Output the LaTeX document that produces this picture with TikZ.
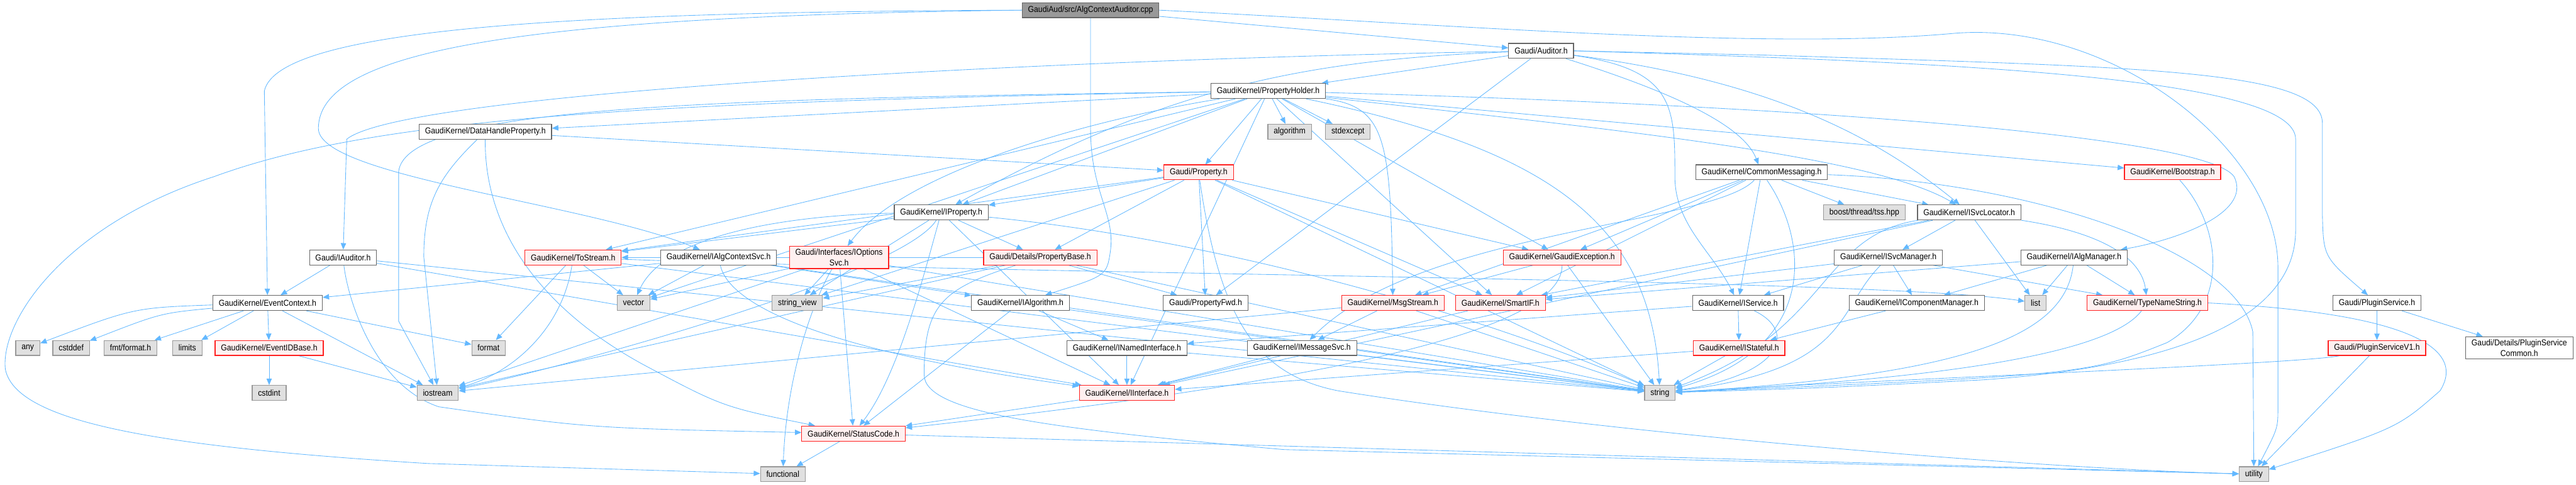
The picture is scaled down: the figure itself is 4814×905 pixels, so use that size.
\documentclass[tikz,border=0pt]{standalone}
\usepackage{fontspec}
\setsansfont{Liberation Sans}[FakeStretch=0.9]
\usetikzlibrary{arrows.meta,backgrounds}
\definecolor{edgeblue}{HTML}{63B8FF}
\definecolor{redline}{HTML}{FF2020}
\definecolor{redfill}{HTML}{FFF0F0}
\definecolor{grayfill}{HTML}{E0E0E0}
\definecolor{grayline}{HTML}{999999}
\definecolor{boxline}{HTML}{666666}
\definecolor{rootfill}{HTML}{999999}
\tikzset{
  every node/.style={font=\sffamily},
  hdr/.style={draw=boxline, line width=0.7pt, fill=white, minimum height=14pt,
              inner xsep=5.5pt, inner ysep=2.5pt, align=center, text=black,
              font=\sffamily\fontsize{8}{10}\selectfont},
  trunc/.style={hdr, draw=redline, fill=redfill},
  sys/.style={hdr, draw=grayline, fill=grayfill},
  srcfile/.style={hdr, fill=rootfill},
  dep/.style={-{Triangle[length=6pt, width=5pt]}, line width=0.5pt, draw=edgeblue},
}

\begin{document}
\begin{tikzpicture}[x=0.5pt, y=-0.5pt]
\useasboundingbox (0,0) rectangle (4814,905);

% --- header nodes, row by row ---
\node[srcfile] (root) at (2038,19) {GaudiAud/src/AlgContextAuditor.cpp};
\node[hdr] (auditor) at (2880,95) {Gaudi/Auditor.h};
\node[hdr] (propholder) at (2370,170) {GaudiKernel/PropertyHolder.h};

\node[hdr] (dhprop) at (907,246) {GaudiKernel/DataHandleProperty.h};
\node[sys] (algorithm) at (2410,246) {algorithm};
\node[sys] (stdexcept) at (2519,246) {stdexcept};

\node[trunc] (property) at (2240,322) {Gaudi/Property.h};
\node[hdr] (commsg) at (3292,322) {GaudiKernel/CommonMessaging.h};
\node[trunc] (bootstrap) at (4060,322) {GaudiKernel/Bootstrap.h};

\node[hdr] (iproperty) at (1759,397) {GaudiKernel/IProperty.h};
\node[sys] (boost) at (3484,397) {boost/thread/tss.hpp};
\node[hdr] (isvcloc) at (3680,397) {GaudiKernel/ISvcLocator.h};

\node[hdr] (iauditor) at (641,481) {Gaudi/IAuditor.h};
\node[trunc] (tostream) at (1071,481) {GaudiKernel/ToStream.h};
\node[hdr] (ialgctx) at (1343,481) {GaudiKernel/IAlgContextSvc.h};
\node[trunc] (ioptsvc) at (1568,481) {Gaudi/Interfaces/IOptions\\Svc.h};
\node[trunc] (propbase) at (1944,481) {Gaudi/Details/PropertyBase.h};
\node[trunc] (gaudiexc) at (2919,481) {GaudiKernel/GaudiException.h};
\node[hdr] (isvcmgr) at (3529,481) {GaudiKernel/ISvcManager.h};
\node[hdr] (ialgmgr) at (3876,481) {GaudiKernel/IAlgManager.h};

\node[hdr] (evctx) at (500,566) {GaudiKernel/EventContext.h};
\node[sys] (vector) at (1184,566) {vector};
\node[sys] (strview) at (1490,566) {string\_view};
\node[hdr] (ialgo) at (1907,566) {GaudiKernel/IAlgorithm.h};
\node[hdr] (propfwd) at (2253,566) {Gaudi/PropertyFwd.h};
\node[trunc] (msgstream) at (2603,566) {GaudiKernel/MsgStream.h};
\node[trunc] (smartif) at (2804,566) {GaudiKernel/SmartIF.h};
\node[hdr] (iservice) at (3248,566) {GaudiKernel/IService.h};
\node[hdr] (icompmgr) at (3582,566) {GaudiKernel/IComponentManager.h};
\node[sys] (list) at (3804,566) {list};
\node[trunc] (typename) at (4013,566) {GaudiKernel/TypeNameString.h};
\node[hdr] (pluginsvc) at (4442,566) {Gaudi/PluginService.h};

\node[sys] (any) at (52,650) {any};
\node[sys] (cstddef) at (133,650) {cstddef};
\node[sys] (fmtformat) at (244,650) {fmt/format.h};
\node[sys] (limits) at (350,650) {limits};
\node[trunc] (evidbase) at (503,650) {GaudiKernel/EventIDBase.h};
\node[sys] (format) at (913,650) {format};
\node[hdr] (inamed) at (2106,650) {GaudiKernel/INamedInterface.h};
\node[hdr] (imsgsvc) at (2433,650) {GaudiKernel/IMessageSvc.h};
\node[trunc] (istateful) at (3250,650) {GaudiKernel/IStateful.h};
\node[trunc] (pluginv1) at (4442,650) {Gaudi/PluginServiceV1.h};
\node[hdr] (plugincommon) at (4708,650) {Gaudi/Details/PluginService\\Common.h};

\node[sys] (cstdint) at (503,734) {cstdint};
\node[sys] (iostream) at (818,734) {iostream};
\node[trunc] (iinterface) at (2106,734) {GaudiKernel/IInterface.h};
\node[sys] (string) at (3102,734) {string};

\node[trunc] (statuscode) at (1595,810) {GaudiKernel/StatusCode.h};
\node[sys] (functional) at (1463,886) {functional};
\node[sys] (utility) at (4212,886) {utility};

\begin{scope}[on background layer]
% --- source file ---
\draw[dep] (root) -- (auditor);
\draw[dep] (root.west) .. controls (1100,22) and (520,50) .. (494,170) -- (evctx);
\draw[dep] (root.west) .. controls (1000,30) and (595,90) .. (595,240) .. controls (595,330) and (1100,380) .. (ialgctx);
\draw[dep] (root) -- (2038,240) .. controls (2038,360) and (2085,400) .. (2075,470) .. controls (2068,515) .. (ialgo);
\draw[dep] (root.east) .. controls (2700,45) and (3300,95) .. (3655,62) .. controls (3950,40) and (4257,280) .. (4257,500) -- (4257,760) .. controls (4257,800) .. (utility);

% --- Gaudi/Auditor.h ---
\draw[dep] (auditor) -- (propholder);
\draw[dep] (auditor) .. controls (2000,110) and (760,170) .. (648,260) -- (iauditor);
\draw[dep] (auditor) .. controls (2400,112) and (2150,180) .. (iproperty);
\draw[dep] (auditor) -- (propfwd);
\draw[dep] (auditor) .. controls (3150,180) and (3260,240) .. (commsg);
\draw[dep] (auditor) .. controls (3300,150) and (3500,250) .. (isvcloc);
\draw[dep] (auditor) .. controls (3130,130) and (3130,200) .. (3130,330) .. controls (3130,420) and (3200,470) .. (iservice);
\draw[dep] (auditor.east) -- (3300,103) .. controls (4000,125) and (4340,130) .. (4340,230) -- (4340,400) .. controls (4342,480) .. (pluginsvc);
\draw[dep] (auditor.east) .. controls (3600,115) and (4290,140) .. (4290,260) -- (4290,430) .. controls (4290,620) and (4000,690) .. (3700,710) .. controls (3400,725) .. (string);

% --- GaudiKernel/PropertyHolder.h ---
\draw[dep] (propholder) -- (dhprop);
\draw[dep] (propholder) -- (algorithm);
\draw[dep] (propholder) -- (stdexcept);
\draw[dep] (propholder) -- (property);
\draw[dep] (propholder) -- (bootstrap);
\draw[dep] (propholder) -- (iproperty);
\draw[dep] (propholder) .. controls (3000,240) and (3500,290) .. (isvcloc);
\draw[dep] (propholder) .. controls (2000,230) and (1680,330) .. (ioptsvc);
\draw[dep] (propholder) .. controls (2590,200) and (2599,260) .. (msgstream);
\draw[dep] (propholder) -- (smartif);
\draw[dep] (propholder) -- (gaudiexc);
\draw[dep] (propholder) -- (tostream);
\draw[dep] (propholder) -- (vector);
\draw[dep] (propholder) -- (iinterface);
\draw[dep] (propholder) .. controls (2900,280) and (3085,420) .. (string);
\draw[dep] (propholder) .. controls (3300,195) and (4120,250) .. (4175,330) .. controls (4210,400) and (4060,450) .. (ialgmgr);
\draw[dep] (propholder) .. controls (1300,185) and (760,200) .. (745,320) -- (745,600) -- (iostream);
\draw[dep] (propholder) .. controls (1200,190) and (700,220) .. (400,330) .. controls (120,420) and (0,600) .. (10,690) .. controls (30,790) and (300,835) .. (800,866) -- (functional);

% --- GaudiKernel/DataHandleProperty.h ---
\draw[dep] (dhprop) -- (property);
\draw[dep] (dhprop) .. controls (820,330) and (792,380) .. (792,480) -- (iostream);
\draw[dep] (dhprop) .. controls (905,420) and (1000,570) .. (1200,680) .. controls (1350,760) .. (statuscode);

% --- Gaudi/Property.h ---
\draw[dep] (property) -- (iproperty);
\draw[dep] (property) -- (propbase);
\draw[dep] (property) -- (propfwd);
\draw[dep] (property) -- (tostream);
\draw[dep] (property) -- (smartif);
\draw[dep] (property) -- (gaudiexc);
\draw[dep] (property) -- (strview);
\draw[dep] (property) -- (string);
\draw[dep] (property) .. controls (2280,600) and (2350,700) .. (2500,730) .. controls (3000,810) and (3800,875) .. (utility);

% --- GaudiKernel/CommonMessaging.h ---
\draw[dep] (commsg) -- (boost);
\draw[dep] (commsg) -- (isvcloc);
\draw[dep] (commsg) -- (msgstream);
\draw[dep] (commsg) -- (gaudiexc);
\draw[dep] (commsg) .. controls (3200,420) and (2650,430) .. (imsgsvc);
\draw[dep] (commsg) -- (smartif);
\draw[dep] (commsg) -- (iservice);
\draw[dep] (commsg) .. controls (3380,450) and (3400,650) .. (string);
\draw[dep] (commsg) .. controls (3800,340) and (4180,470) .. (4210,620) -- (utility);

% --- GaudiKernel/Bootstrap.h ---
\draw[dep] (bootstrap) .. controls (4150,420) and (4170,570) .. (4050,640) .. controls (3900,700) .. (string);

% --- GaudiKernel/IProperty.h ---
\draw[dep] (iproperty) -- (propbase);
\draw[dep] (iproperty) -- (tostream);
\draw[dep] (iproperty) .. controls (1550,400) and (1250,420) .. (vector);
\draw[dep] (iproperty) -- (strview);
\draw[dep] (iproperty) .. controls (1680,520) and (1000,700) .. (iostream);
\draw[dep] (iproperty) .. controls (1730,500) and (1680,700) .. (statuscode);
\draw[dep] (iproperty) -- (iinterface);
\draw[dep] (iproperty) .. controls (2300,450) and (2800,600) .. (string);

% --- GaudiKernel/ISvcLocator.h ---
\draw[dep] (isvcloc) -- (isvcmgr);
\draw[dep] (isvcloc) -- (smartif);
\draw[dep] (isvcloc) -- (list);
\draw[dep] (isvcloc) .. controls (3900,430) and (4000,470) .. (typename);
\draw[dep] (isvcloc) .. controls (3400,440) and (3420,620) .. (string);
\draw[dep] (isvcloc) -- (iinterface);

% --- Gaudi/IAuditor.h ---
\draw[dep] (iauditor) -- (evctx);
\draw[dep] (iauditor) .. controls (650,560) and (700,720) .. (820,760) .. controls (1100,800) .. (statuscode);
\draw[dep] (iauditor) -- (iinterface);
\draw[dep] (iauditor) -- (string);

% --- GaudiKernel/ToStream.h ---
\draw[dep] (tostream) -- (format);
\draw[dep] (tostream) .. controls (1050,620) and (950,700) .. (iostream);
\draw[dep] (tostream) -- (vector);
\draw[dep] (tostream) -- (string);
\draw[dep] (tostream) .. controls (2000,515) and (3500,520) .. (list);

% --- GaudiKernel/IAlgContextSvc.h ---
\draw[dep] (ialgctx) -- (evctx);
\draw[dep] (ialgctx) -- (vector);
\draw[dep] (ialgctx) -- (ialgo);
\draw[dep] (ialgctx) .. controls (1360,560) and (1500,650) .. (iinterface);
\draw[dep] (ialgctx) -- (string);

% --- Gaudi/Interfaces/IOptionsSvc.h ---
\draw[dep] (ioptsvc) -- (vector);
\draw[dep] (ioptsvc) -- (iostream);
\draw[dep] (ioptsvc) .. controls (1520,560) and (1470,700) .. (functional);
\draw[dep] (ioptsvc) -- (statuscode);
\draw[dep] (ioptsvc) -- (string);
\draw[dep] (ioptsvc) -- (iinterface);
\draw[dep] (ioptsvc) -- (strview);

% --- Gaudi/Details/PropertyBase.h ---
\draw[dep] (propbase) -- (propfwd);
\draw[dep] (propbase) -- (strview);
\draw[dep] (propbase) -- (tostream);
\draw[dep] (propbase) -- (iostream);
\draw[dep] (propbase) .. controls (1760,540) and (1727,570) .. (1727,700) .. controls (1727,770) and (1950,800) .. (2400,840) -- (utility);
\draw[dep] (propbase) -- (string);

% --- GaudiKernel/GaudiException.h ---
\draw[dep] (gaudiexc) -- (msgstream);
\draw[dep] (gaudiexc) -- (string);
\draw[dep] (gaudiexc) .. controls (2920,600) and (2600,700) .. (statuscode);

% --- service and algorithm managers ---
\draw[dep] (isvcmgr) -- (iservice);
\draw[dep] (isvcmgr) -- (icompmgr);
\draw[dep] (isvcmgr) -- (typename);
\draw[dep] (isvcmgr) -- (smartif);
\draw[dep] (isvcmgr) .. controls (3430,580) and (3460,690) .. (string);
\draw[dep] (ialgmgr) -- (icompmgr);
\draw[dep] (ialgmgr) -- (list);
\draw[dep] (ialgmgr) -- (typename);
\draw[dep] (ialgmgr) -- (smartif);
\draw[dep] (ialgmgr) .. controls (3860,620) and (3700,700) .. (string);

% --- GaudiKernel/EventContext.h ---
\draw[dep] (evctx) .. controls (250,575) .. (any);
\draw[dep] (evctx) .. controls (300,585) .. (cstddef);
\draw[dep] (evctx) -- (fmtformat);
\draw[dep] (evctx) -- (limits);
\draw[dep] (evctx) -- (evidbase);
\draw[dep] (evctx) -- (iostream);
\draw[dep] (evctx) -- (format);
\draw[dep] (evidbase) -- (cstdint);
\draw[dep] (evidbase) -- (iostream);

% --- remaining interfaces ---
\draw[dep] (ialgo) -- (inamed);
\draw[dep] (ialgo) -- (string);
\draw[dep] (ialgo) -- (statuscode);
\draw[dep] (msgstream) -- (imsgsvc);
\draw[dep] (msgstream) -- (string);
\draw[dep] (msgstream) -- (iostream);
\draw[dep] (smartif) -- (iinterface);
\draw[dep] (iservice) -- (istateful);
\draw[dep] (iservice) .. controls (3360,620) and (3330,700) .. (string);
\draw[dep] (iservice) -- (inamed);
\draw[dep] (icompmgr) -- (istateful);
\draw[dep] (typename) .. controls (3950,650) and (3700,705) .. (string);
\draw[dep] (typename.east) .. controls (4500,585) and (4610,650) .. (4560,730) .. controls (4480,800) .. (utility);
\draw[dep] (pluginsvc) -- (pluginv1);
\draw[dep] (pluginsvc) -- (plugincommon);
\draw[dep] (pluginv1) -- (utility);
\draw[dep] (pluginv1) .. controls (4300,680) and (3500,710) .. (string);
\draw[dep] (inamed) -- (iinterface);
\draw[dep] (inamed) -- (string);
\draw[dep] (imsgsvc) -- (iinterface);
\draw[dep] (imsgsvc) -- (string);
\draw[dep] (istateful) -- (iinterface);
\draw[dep] (istateful) -- (string);
\draw[dep] (iinterface) -- (statuscode);
\draw[dep] (statuscode) -- (functional);
\draw[dep] (statuscode) -- (utility);
\end{scope}

\end{tikzpicture}
\end{document}
